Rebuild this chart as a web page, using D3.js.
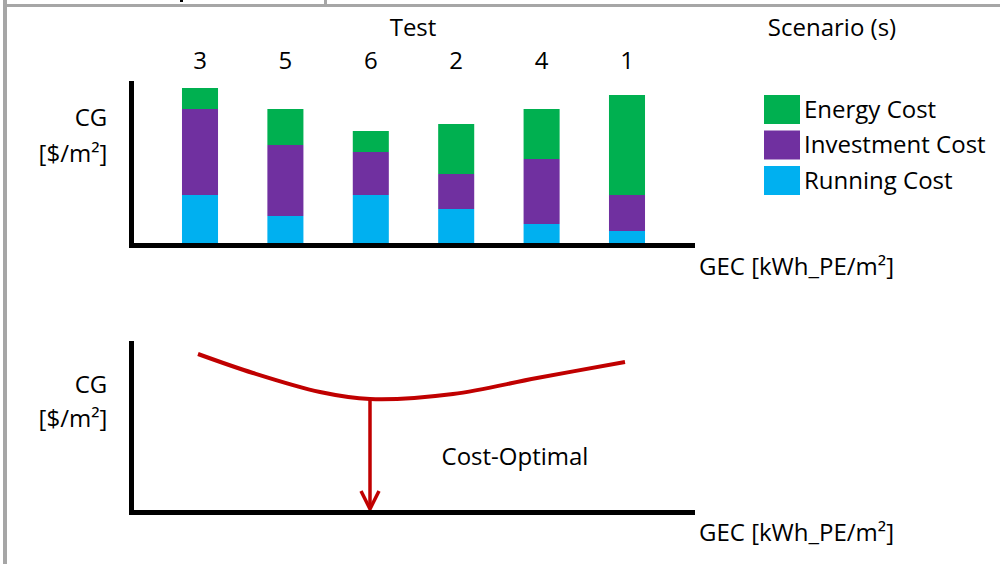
<!DOCTYPE html>
<html>
<head>
<meta charset="utf-8">
<script src="https://cdn.jsdelivr.net/npm/d3@7/dist/d3.min.js"></script>
<style>
  html, body { margin: 0; padding: 0; background: #fff; }
  svg { display: block; }
  text { font-family: "Open Sans", Lato, sans-serif; fill: #000; }
</style>
</head>
<body>
<svg id="chart" width="1000" height="564"></svg>
<script>
// ---- data ----
const scenarios = ["3", "5", "6", "2", "4", "1"];
const runningCost    = [48, 27, 48, 34, 19, 12];
const investmentCost = [86, 71, 43, 35, 65, 36];
const energyCost     = [21, 36, 21, 50, 50, 100];
const seriesNames = ["Energy Cost", "Investment Cost", "Running Cost"];
const seriesColors = ["#00b050", "#7030a0", "#00b0f0"];

// cost-optimal curve (GEC, CG) in arbitrary units
const curveGEC = [67, 122, 189, 239, 322, 406, 494];
const curveCG  = [159, 140, 121, 114, 119, 135, 151];
const optimalGEC = 239;

const FS = 24;
const svg = d3.select("#chart");

// ---- frame ----
const frame = svg.append("g").attr("fill", "#a6a6a6");
frame.append("rect").attr("x", 3).attr("y", 4).attr("width", 997).attr("height", 3);
frame.append("rect").attr("x", 3).attr("y", 0).attr("width", 4).attr("height", 564);
frame.append("rect").attr("x", 324).attr("y", 0).attr("width", 3).attr("height", 5);
svg.append("rect").attr("x", 180).attr("y", 0).attr("width", 3).attr("height", 2).attr("fill", "#000");

// ---- top stacked bar chart ----
const x = d3.scaleBand().domain(scenarios).range([131, 696])
  .paddingInner(0.578).paddingOuter(0.597);
const y = d3.scaleLinear().domain([0, 162]).range([243, 81]);

const rows = scenarios.map((s, i) => ({
  s, "Running Cost": runningCost[i], "Investment Cost": investmentCost[i], "Energy Cost": energyCost[i]
}));
const stack = d3.stack().keys(["Running Cost", "Investment Cost", "Energy Cost"]);
const stacked = stack(rows);
const color = d3.scaleOrdinal().domain(seriesNames).range(seriesColors);

svg.append("g").selectAll("g").data(stacked).join("g")
  .attr("fill", d => color(d.key))
  .selectAll("rect").data(d => d).join("rect")
  .attr("x", d => x(d.data.s))
  .attr("width", x.bandwidth())
  .attr("y", d => y(d[1]))
  .attr("height", d => y(d[0]) - y(d[1]));

// axes (thick black lines)
svg.append("line").attr("x1", 131.5).attr("x2", 131.5).attr("y1", 81).attr("y2", 248)
  .attr("stroke", "#000").attr("stroke-width", 5);
svg.append("line").attr("x1", 129).attr("x2", 695).attr("y1", 245.5).attr("y2", 245.5)
  .attr("stroke", "#000").attr("stroke-width", 5);

// category labels on top
svg.append("g").selectAll("text").data(scenarios).join("text")
  .attr("x", d => x(d) + x.bandwidth() / 2)
  .attr("y", 69).attr("text-anchor", "middle").attr("font-size", FS)
  .text(d => d);
svg.append("text").attr("x", 413).attr("y", 36).attr("text-anchor", "middle")
  .attr("font-size", FS).text("Test");
svg.append("text").attr("x", 832).attr("y", 36).attr("text-anchor", "middle")
  .attr("font-size", FS).text("Scenario (s)");

// y label
svg.append("text").attr("x", 91).attr("y", 126).attr("text-anchor", "middle").attr("font-size", FS).text("CG");
svg.append("text").attr("x", 73).attr("y", 162).attr("text-anchor", "middle").attr("font-size", FS).text("[$/m²]");
svg.append("text").attr("x", 699).attr("y", 275).attr("font-size", FS).text("GEC [kWh_PE/m²]");

// legend
const legend = svg.append("g").selectAll("g").data(seriesNames).join("g")
  .attr("transform", (d, i) => `translate(764, ${95 + i * 35.5})`);
legend.append("rect").attr("width", 36).attr("height", 29).attr("fill", d => color(d));
legend.append("text").attr("x", 40).attr("y", 22.5).attr("font-size", FS).text(d => d);

// ---- bottom curve chart ----
const x2 = d3.scaleLinear().domain([0, 564]).range([131, 695]);
const y2 = d3.scaleLinear().domain([0, 172]).range([513, 341]);
const pts = curveGEC.map((g, i) => [g, curveCG[i]]);
const line = d3.line().x(d => x2(d[0])).y(d => y2(d[1])).curve(d3.curveCatmullRom);

svg.append("path").attr("d", line(pts)).attr("fill", "none")
  .attr("stroke", "#c00000").attr("stroke-width", 4);

// arrow
const minCG = d3.min(curveCG);
const ax = x2(optimalGEC);
svg.append("line").attr("x1", ax).attr("x2", ax).attr("y1", y2(minCG)).attr("y2", 509)
  .attr("stroke", "#c00000").attr("stroke-width", 3.5);
svg.append("path")
  .attr("d", `M${ax - 9},${491} L${ax},${509} L${ax + 9},${491}`)
  .attr("fill", "none").attr("stroke", "#c00000").attr("stroke-width", 3.5);

svg.append("line").attr("x1", 131.5).attr("x2", 131.5).attr("y1", 341).attr("y2", 515)
  .attr("stroke", "#000").attr("stroke-width", 5);
svg.append("line").attr("x1", 129).attr("x2", 695).attr("y1", 512.5).attr("y2", 512.5)
  .attr("stroke", "#000").attr("stroke-width", 5);

svg.append("text").attr("x", 91).attr("y", 393).attr("text-anchor", "middle").attr("font-size", FS).text("CG");
svg.append("text").attr("x", 73).attr("y", 427).attr("text-anchor", "middle").attr("font-size", FS).text("[$/m²]");
svg.append("text").attr("x", 515).attr("y", 465).attr("text-anchor", "middle").attr("font-size", FS).text("Cost-Optimal");
svg.append("text").attr("x", 699).attr("y", 541).attr("font-size", FS).text("GEC [kWh_PE/m²]");
</script>
</body>
</html>
